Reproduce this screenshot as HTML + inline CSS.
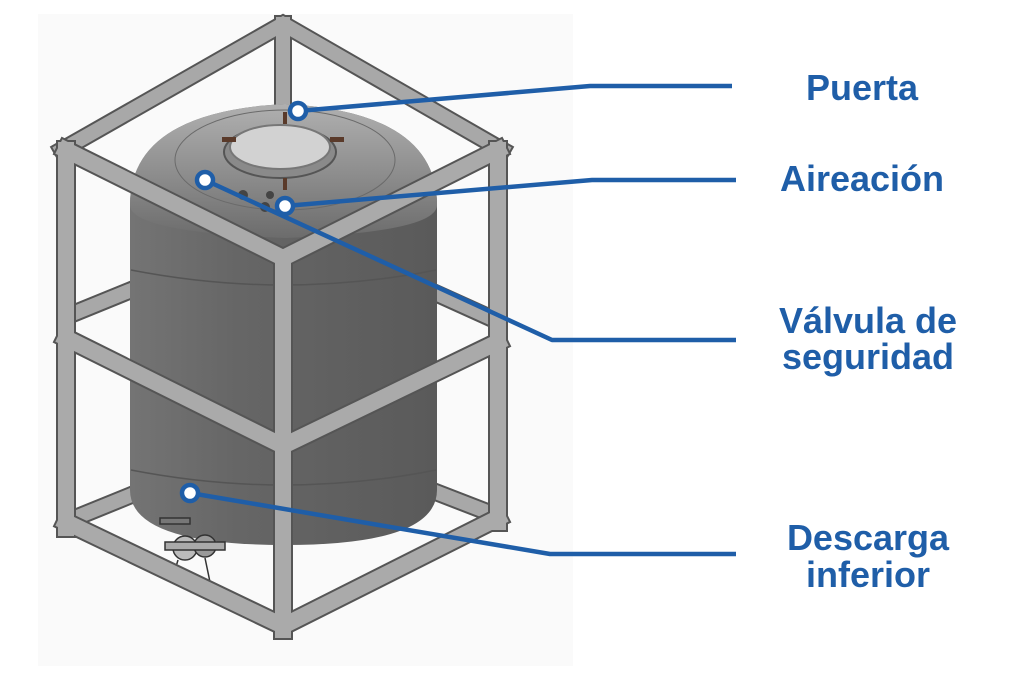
<!DOCTYPE html>
<html><head><meta charset="utf-8"><style>
html,body{margin:0;padding:0;background:#fff;}
svg{display:block;}
text{font-family:"Liberation Sans",sans-serif;font-weight:bold;fill:#1f5ea8;}
</style></head><body>
<svg width="1024" height="683" viewBox="0 0 1024 683" xmlns="http://www.w3.org/2000/svg">
<defs>
<linearGradient id="body" x1="0" x2="1" y1="0" y2="0">
<stop offset="0" stop-color="#747474"/><stop offset="0.35" stop-color="#666"/><stop offset="1" stop-color="#5a5a5a"/>
</linearGradient>
<linearGradient id="dome" x1="0" x2="0" y1="0" y2="1">
<stop offset="0" stop-color="#b0b0b0"/><stop offset="0.6" stop-color="#888"/><stop offset="1" stop-color="#6c6c6c"/>
</linearGradient>
</defs>
<rect x="38" y="14" width="535" height="652" fill="#fafafa"/>
<g stroke-linecap="square">
<g stroke="#555" stroke-width="18" fill="none">
<line x1="283" y1="24" x2="283" y2="400"/>
<line x1="70" y1="520" x2="230" y2="455"/>
<line x1="495" y1="515" x2="340" y2="455"/>
<line x1="70" y1="315" x2="200" y2="262"/>
<line x1="495" y1="320" x2="380" y2="268"/>
<polyline points="62,150 283,24 502,150"/>
</g>
<g stroke="#a8a8a8" stroke-width="14" fill="none">
<line x1="283" y1="24" x2="283" y2="400"/>
<line x1="70" y1="520" x2="230" y2="455"/>
<line x1="495" y1="515" x2="340" y2="455"/>
<line x1="70" y1="315" x2="200" y2="262"/>
<line x1="495" y1="320" x2="380" y2="268"/>
<polyline points="62,150 283,24 502,150"/>
</g>
</g>
<path d="M130,205 Q130,112 285,104 Q437,112 437,205 L437,490 Q437,545 285,545 Q130,545 130,490 Z" fill="url(#body)"/>
<path d="M130,205 Q130,112 285,104 Q437,112 437,205 Q437,232 285,238 Q130,232 130,205 Z" fill="url(#dome)"/>
<path d="M131,270 Q285,300 436,270" stroke="#555" stroke-width="1.5" fill="none"/>
<path d="M131,470 Q285,500 436,470" stroke="#555" stroke-width="1.5" fill="none"/>
<ellipse cx="285" cy="160" rx="110" ry="50" fill="none" stroke="#6a6a6a" stroke-width="1"/>
<ellipse cx="280" cy="152" rx="56" ry="26" fill="#8a8a8a" stroke="#555" stroke-width="2"/>
<ellipse cx="280" cy="147" rx="50" ry="22" fill="#d2d2d2" stroke="#777" stroke-width="2"/>
<g fill="#5a3a2a"><rect x="222" y="137" width="14" height="5"/><rect x="330" y="137" width="14" height="5"/><rect x="283" y="112" width="4" height="12"/><rect x="283" y="178" width="4" height="12"/></g>
<g fill="#444"><circle cx="243" cy="195" r="5"/><circle cx="265" cy="207" r="5"/><circle cx="270" cy="195" r="4"/></g>
<g fill="#777" stroke="#333" stroke-width="1.5">
<rect x="160" y="518" width="30" height="6"/>
<circle cx="185" cy="548" r="12" fill="#bbb"/>
<circle cx="205" cy="546" r="11" fill="#999"/>
<rect x="165" y="542" width="60" height="8" fill="#aaa"/>
<line x1="178" y1="560" x2="172" y2="580"/>
<line x1="205" y1="558" x2="210" y2="582"/>
</g>
<g stroke-linecap="square" fill="none">
<g stroke="#555" stroke-width="20">
<line x1="66" y1="150" x2="66" y2="528"/>
<line x1="283" y1="258" x2="283" y2="630"/>
<line x1="498" y1="150" x2="498" y2="522"/>
<polyline points="66,150 283,258 498,150"/>
<polyline points="66,338 283,446 498,342"/>
<polyline points="66,522 283,626 498,518"/>
</g>
<g stroke="#aaa" stroke-width="16">
<line x1="66" y1="150" x2="66" y2="528"/>
<line x1="283" y1="258" x2="283" y2="630"/>
<line x1="498" y1="150" x2="498" y2="522"/>
<polyline points="66,150 283,258 498,150"/>
<polyline points="66,338 283,446 498,342"/>
<polyline points="66,522 283,626 498,518"/>
</g>
</g>
<g stroke="#1f5ea8" stroke-width="4.5" fill="none" stroke-linejoin="round">
<polyline points="298,111 590,86 732,86"/>
<polyline points="285,206 592,180 736,180"/>
<polyline points="205,180 552,340 736,340"/>
<polyline points="190,493 550,554 736,554"/>
</g>
<g fill="#fff" stroke="#1f5ea8" stroke-width="4.5">
<circle cx="298" cy="111" r="8"/>
<circle cx="285" cy="206" r="8"/>
<circle cx="205" cy="180" r="8"/>
<circle cx="190" cy="493" r="8"/>
</g>
<g font-size="36" text-anchor="middle">
<text x="862" y="100">Puerta</text>
<text x="862" y="191">Aireación</text>
<text x="868" y="333">Válvula de</text>
<text x="868" y="369">seguridad</text>
<text x="868" y="550">Descarga</text>
<text x="868" y="587">inferior</text>
</g>
</svg>
</body></html>
